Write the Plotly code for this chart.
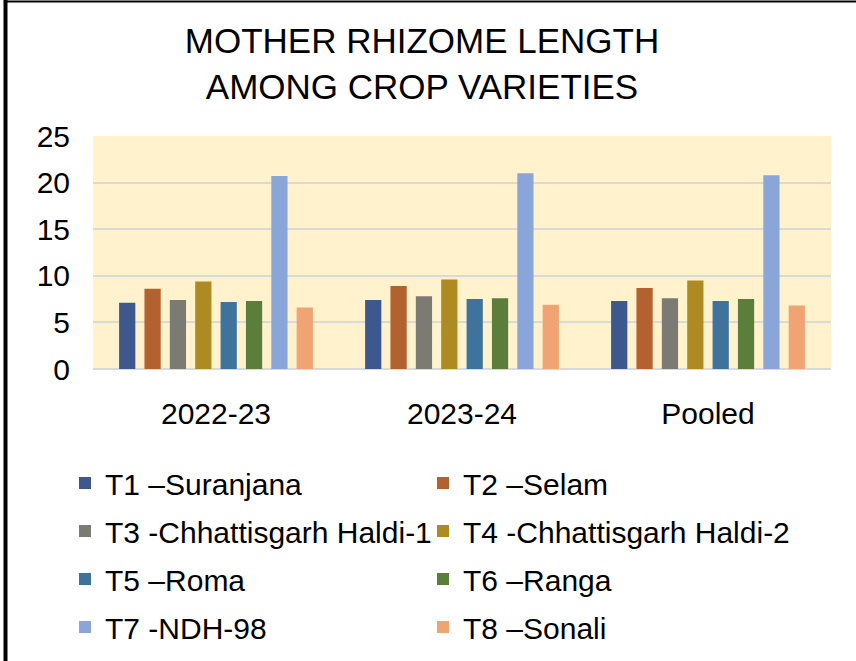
import plotly.graph_objects as go

# ---- data ----
categories = ["2022-23", "2023-24", "Pooled"]
series_names = [
    "T1 –Suranjana",
    "T2 –Selam",
    "T3 -Chhattisgarh Haldi-1",
    "T4 -Chhattisgarh Haldi-2",
    "T5 –Roma",
    "T6 –Ranga",
    "T7 -NDH-98",
    "T8 –Sonali",
]
t1 = [7.1, 7.4, 7.3]
t2 = [8.6, 8.9, 8.7]
t3 = [7.4, 7.8, 7.6]
t4 = [9.4, 9.6, 9.5]
t5 = [7.2, 7.5, 7.3]
t6 = [7.3, 7.6, 7.5]
t7 = [20.7, 21.0, 20.8]
t8 = [6.6, 6.9, 6.8]
series_values = [t1, t2, t3, t4, t5, t6, t7, t8]

colors = ["#3d588c", "#b3612f", "#7b7b74", "#ad8a22",
          "#3f739c", "#5b7e3b", "#8aa6d8", "#f0a474"]

FONT = "Liberation Sans, Arial, sans-serif"

W, H = 856, 661
# plot area in pixels
PL, PR, PT, PB = 93, 831, 136, 369
PW, PH = PR - PL, PB - PT

# legend placement (pixels): column text start x, row centre y
col_x = [105, 463]
row_y = [483, 531, 579, 627]

fig = go.Figure()
for i, (name, vals) in enumerate(zip(series_names, series_values)):
    lid = "legend" if i == 0 else f"legend{i+1}"
    fig.add_trace(go.Bar(
        x=categories, y=vals, name=name,
        marker=dict(color=colors[i], line=dict(width=0)),
        legend=lid, showlegend=True,
    ))
    col = i % 2
    row = i // 2
    fig.update_layout({lid: dict(
        xref="container", yref="container",
        x=(col_x[col] - 40) / W, y=1 - row_y[row] / H,
        xanchor="left", yanchor="middle",
        orientation="h", bgcolor="rgba(0,0,0,0)",
        font=dict(family=FONT, size=30, color="#000000"),
    )})


def px_x(p):
    return (p - PL) / PW


def px_y(p):
    return (PB - p) / PH


fig.update_layout(
    width=W, height=H, showlegend=True,
    barmode="group", bargap=0.175, bargroupgap=0.36,
    paper_bgcolor="#ffffff", plot_bgcolor="#fff2cc",
    margin=dict(l=PL, r=W - PR, t=PT, b=H - PB, autoexpand=False),
    title=dict(
        text="MOTHER RHIZOME LENGTH<br>AMONG CROP VARIETIES",
        font=dict(family=FONT, size=35, color="#000000"),
        xref="container", yref="container",
        x=422 / W, xanchor="center", y=1 - 53 / H, yanchor="middle",
    ),
    font=dict(family=FONT, color="#000000"),
    xaxis=dict(
        tickfont=dict(family=FONT, size=30, color="#000000"),
        showgrid=False, zeroline=False, showline=False, ticks="",
        ticklabelstandoff=24,
    ),
    yaxis=dict(
        range=[0, 25], dtick=5, tickmode="linear", tick0=0,
        tickfont=dict(family=FONT, size=30, color="#000000"),
        showgrid=True, gridcolor="#d9d9d9", gridwidth=2,
        zeroline=True, zerolinecolor="#d9d9d9", zerolinewidth=2,
        showline=False, ticks="", ticklabelstandoff=22,
    ),
    shapes=[
        dict(type="line", xref="paper", yref="paper",
             x0=px_x(5.5), x1=px_x(5.5), y0=px_y(H), y1=px_y(0),
             line=dict(color="#000000", width=4)),
        dict(type="line", xref="paper", yref="paper",
             x0=px_x(4), x1=px_x(W), y0=px_y(1.5), y1=px_y(1.5),
             line=dict(color="#000000", width=2)),
    ],
)

fig.write_html("out.html",
               config={"displayModeBar": False},
               post_script="document.body.style.margin='0';"
                           "document.body.style.overflow='hidden';")
